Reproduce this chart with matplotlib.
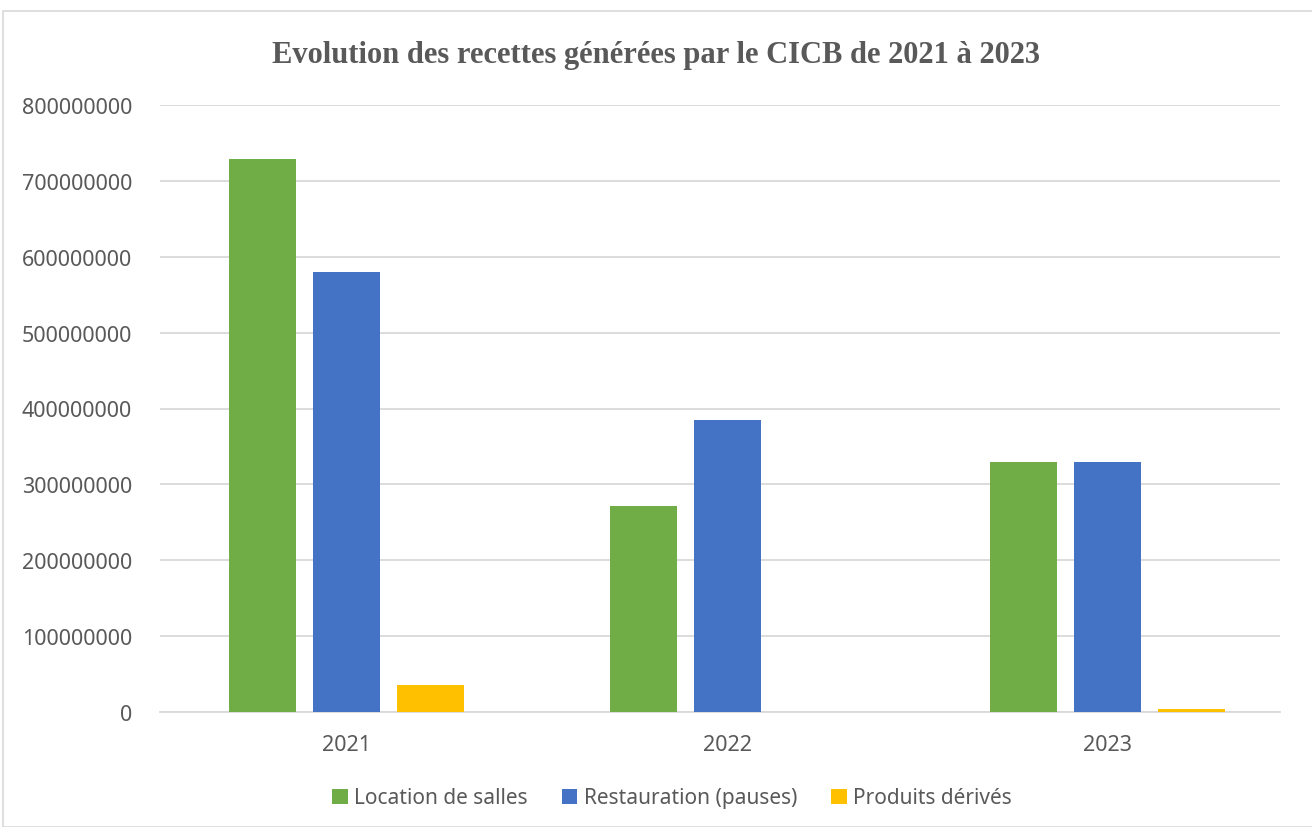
import matplotlib.pyplot as plt
import numpy as np
from matplotlib.patches import Rectangle

years = ['2021', '2022', '2023']
location = [729000000, 271500000, 329000000]
restauration = [580000000, 385000000, 330000000]
produits = [36000000, 0, 4500000]
series_names = ['Location de salles', 'Restauration (pauses)', 'Produits dérivés']
colors = ['#70ad47', '#4472c4', '#ffc000']

fig = plt.figure(figsize=(13.12, 8.28), dpi=100)
ax = fig.add_axes([160/1312, 1-713/828, 1120/1312, 607/828])

# chart border
fig.patches.append(Rectangle((3/1312, 0), 1.0, 1-12/828, transform=fig.transFigure,
                             fill=False, edgecolor='#d9d9d9', linewidth=1.2))

x = np.arange(len(years))
w = 67/380
step = 84/380
for i, (vals, name, c) in enumerate(zip([location, restauration, produits], series_names, colors)):
    ax.bar(x + (i-1)*step, vals, width=w, color=c, label=name, zorder=3)

ax.set_xlim(-0.492, 2.455)
ax.set_ylim(0, 800000000)
ax.set_yticks(np.arange(0, 800000001, 100000000))
ax.yaxis.set_major_formatter(plt.FuncFormatter(lambda v, p: '%d' % v))
ax.set_xticks(x)
ax.set_xticklabels(years)
ax.grid(axis='y', color='#d9d9d9', linewidth=1.3, zorder=0)
for s in ['top', 'right', 'left']:
    ax.spines[s].set_visible(False)
ax.spines['bottom'].set_color('#d9d9d9')
ax.spines['bottom'].set_linewidth(1.3)
ax.tick_params(length=0, labelsize=15.5, colors='#595959', pad=16)
ax.tick_params(axis='y', pad=20)
for lab in ax.get_xticklabels() + ax.get_yticklabels():
    lab.set_fontfamily('Noto Sans')

fig.text(0.5, 1-55/828, 'Evolution des recettes générées par le CICB de 2021 à 2023',
         ha='center', va='center', fontsize=22, fontweight='bold', color='#595959',
         family='Liberation Serif')

fig.legend(loc='center', bbox_to_anchor=(672/1312, 1-799/828), ncol=3, frameon=False,
           prop={'family': 'Noto Sans', 'size': 15}, labelcolor='#595959',
           handlelength=0.75, handleheight=0.75, handletextpad=0.3, columnspacing=1.65)

fig.savefig('out.png', dpi=100)
